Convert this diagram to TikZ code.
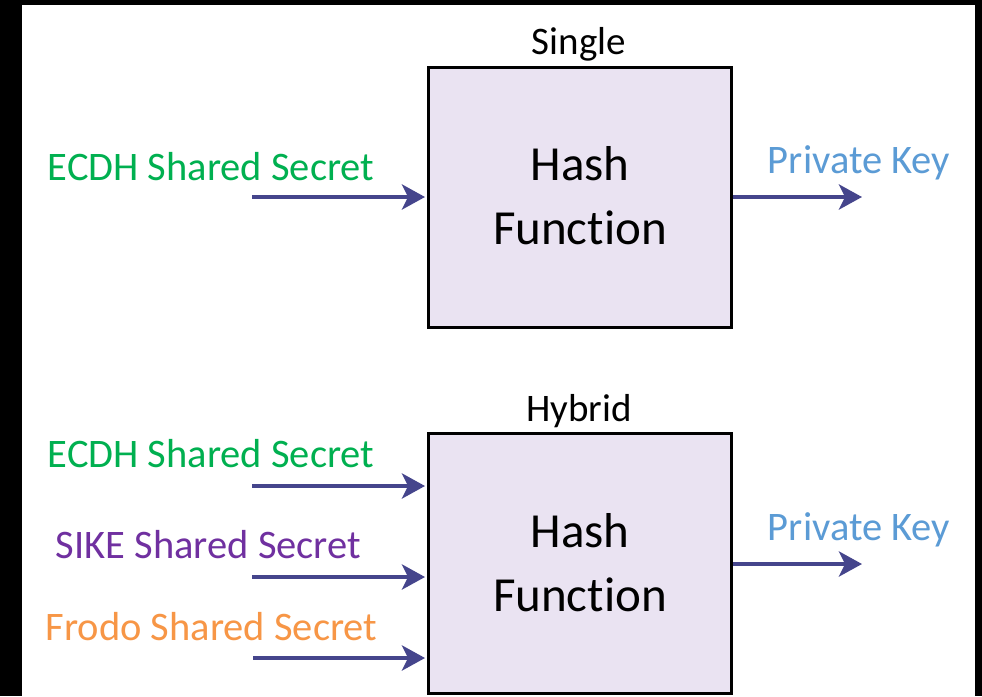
\documentclass[tikz,border=0pt]{standalone}
\usepackage{fontspec}
\setmainfont{Carlito}[Ligatures=NoCommon, RawFeature={-liga;-clig;-calt;-dlig}]
\usetikzlibrary{arrows.meta}
\definecolor{flowblue}{HTML}{45458C}
\definecolor{boxfill}{HTML}{EAE3F2}
\definecolor{ecdhgreen}{HTML}{00B050}
\definecolor{sikepurple}{HTML}{7030A0}
\definecolor{frodoorange}{HTML}{F79646}
\definecolor{keyblue}{HTML}{5B9BD5}
\begin{document}
\begin{tikzpicture}[x=1pt,y=-1pt,
  hashbox/.style={draw=black, line width=3pt, fill=boxfill,
    minimum width=303pt, minimum height=260pt, inner sep=0pt},
  boxtext/.style={anchor=base, inner sep=0pt, font=\fontsize{49}{58}\selectfont},
  caption/.style={anchor=base, inner sep=0pt, font=\fontsize{39}{47}\selectfont},
  secret/.style={anchor=base, inner sep=0pt, font=\fontsize{40.5}{48}\selectfont},
  flow/.style={draw=flowblue, line width=4.5pt,
    -{Stealth[length=23pt,width=25pt,inset=6pt]}, shorten >=2pt}]
\useasboundingbox (0,0) rectangle (982,696);
\fill[black] (0,0) rectangle (982,696);
\fill[white] (22,5) rectangle (975,696);

% single-input hash
\node[hashbox] (hs) at (580,197.5) {};
\node[caption] (single) at (579,54) {Single};
\node[boxtext] (hs1) at (580,180) {Hash};
\node[boxtext] (hs2) at (580,244) {Function};
\node[secret, text=ecdhgreen] (e1) at (211,180) {ECDH Shared Secret};
\node[secret, text=keyblue] (k1) at (859,173) {Private Key};
\coordinate (ie1) at (252,197);
\coordinate (o1) at (862,197);
\draw[flow] (ie1) -- (ie1 -| hs.west);
\draw[flow, shorten >=0pt] (o1 -| hs.east) -- (o1);

% hybrid hash
\node[hashbox] (hh) at (580,563.5) {};
\node[caption] (hybrid) at (579,421) {Hybrid};
\node[boxtext] (hh1) at (580,547) {Hash};
\node[boxtext] (hh2) at (580,611) {Function};
\node[secret, text=ecdhgreen] (e2) at (211,467) {ECDH Shared Secret};
\node[secret, text=sikepurple] (s2) at (208.5,558) {SIKE Shared Secret};
\node[secret, text=frodoorange] (f2) at (211.5,640) {Frodo Shared Secret};
\node[secret, text=keyblue] (k2) at (859,540) {Private Key};
\coordinate (ie2) at (252,486);
\coordinate (is2) at (252,577);
\coordinate (if2) at (253,658);
\coordinate (o2) at (862,564);
\draw[flow] (ie2) -- (ie2 -| hh.west);
\draw[flow] (is2) -- (is2 -| hh.west);
\draw[flow] (if2) -- (if2 -| hh.west);
\draw[flow, shorten >=0pt] (o2 -| hh.east) -- (o2);
\end{tikzpicture}
\end{document}
